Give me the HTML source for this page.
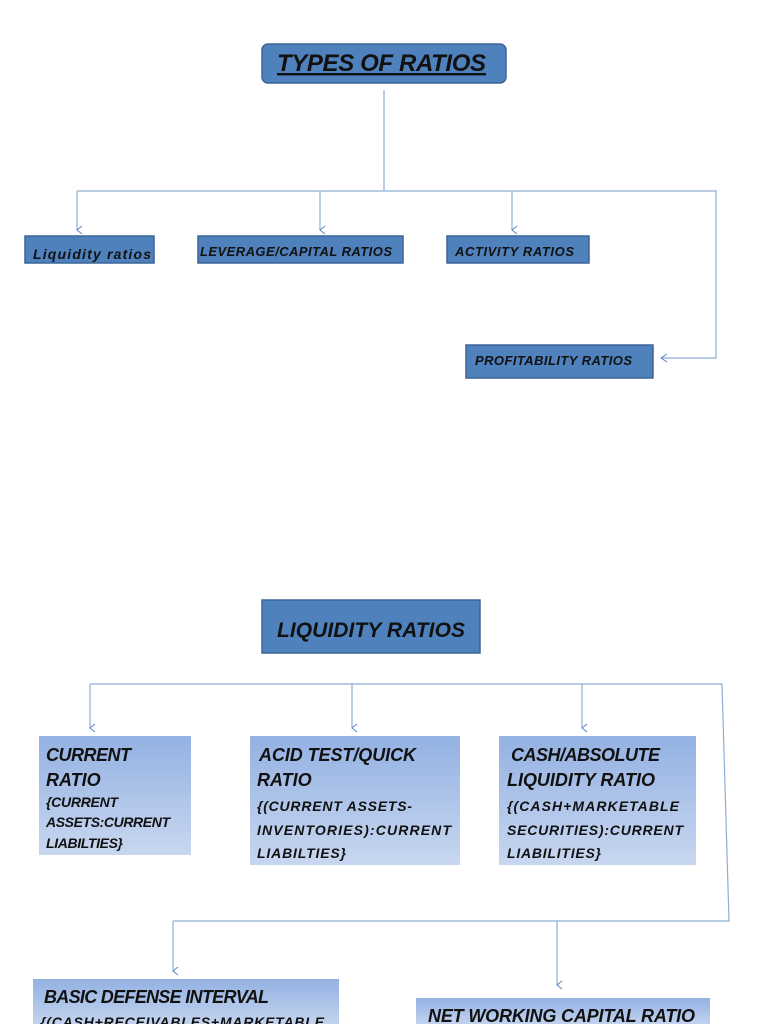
<!DOCTYPE html>
<html><head><meta charset="utf-8"><style>
html,body{margin:0;padding:0;background:#fff;width:768px;height:1024px;overflow:hidden}
svg{display:block}
text{font-family:"Liberation Sans",sans-serif;font-weight:bold;font-style:italic;fill:#111}
</style></head><body>
<svg width="768" height="1024" viewBox="0 0 768 1024" xmlns="http://www.w3.org/2000/svg">
<defs>
<linearGradient id="g" x1="0" y1="0" x2="0" y2="1">
<stop offset="0" stop-color="#93b1e2"/><stop offset="1" stop-color="#c8d7f0"/>
</linearGradient>
<marker id="a" markerWidth="10" markerHeight="10" refX="5" refY="8" orient="auto-start-reverse" markerUnits="userSpaceOnUse">
<path d="M1,3 L5,8 L9,3" fill="none" stroke="#5b86c4" stroke-width="1"/>
</marker>
<marker id="al" markerWidth="10" markerHeight="10" refX="1" refY="5" orient="0" markerUnits="userSpaceOnUse">
<path d="M7,1 L1,5 L7,9" fill="none" stroke="#5b86c4" stroke-width="1"/>
</marker>
</defs>
<g stroke="#8fadd8" stroke-width="1.2" fill="none">
<path d="M384,90 V191"/>
<path d="M77,191 H716 V358 H661" marker-end="url(#al)"/>
<path d="M77,191 V230" marker-end="url(#a)"/>
<path d="M320,191 V230" marker-end="url(#a)"/>
<path d="M512,191 V230" marker-end="url(#a)"/>
<path d="M90,684 H722 L729,921 H173"/>
<path d="M90,684 V728" marker-end="url(#a)"/>
<path d="M352,684 V728" marker-end="url(#a)"/>
<path d="M582,684 V728" marker-end="url(#a)"/>
<path d="M173,921 V971" marker-end="url(#a)"/>
<path d="M557,921 V985" marker-end="url(#a)"/>
</g>
<g fill="#4f81bd" stroke="#3a6596" stroke-width="1.5">
<rect x="262" y="44" width="244" height="39" rx="6"/>
<rect x="25" y="236" width="129" height="27"/>
<rect x="198" y="236" width="205" height="27"/>
<rect x="447" y="236" width="142" height="27"/>
<rect x="466" y="345" width="187" height="33"/>
<rect x="262" y="600" width="218" height="53"/>
</g>
<g fill="url(#g)">
<rect x="39" y="736" width="152" height="119"/>
<rect x="250" y="736" width="210" height="129"/>
<rect x="499" y="736" width="197" height="129"/>
<rect x="33" y="979" width="306" height="50"/>
<rect x="416" y="998" width="294" height="30"/>
</g>
<text x="277" y="71" font-size="24" textLength="209" text-decoration="underline">TYPES OF RATIOS</text>
<line x1="277" y1="74" x2="486" y2="74" stroke="#111" stroke-width="1.5"/>
<text x="33" y="259" font-size="14" textLength="118">Liquidity ratios</text>
<text x="200" y="256" font-size="13" textLength="192">LEVERAGE/CAPITAL RATIOS</text>
<text x="455" y="256" font-size="13" textLength="119">ACTIVITY RATIOS</text>
<text x="475" y="365" font-size="13" textLength="157">PROFITABILITY RATIOS</text>
<text x="277" y="637" font-size="21" textLength="188">LIQUIDITY RATIOS</text>
<g font-size="18">
<text x="46" y="761" textLength="85">CURRENT</text>
<text x="46" y="786">RATIO</text>
<text x="259" y="761" textLength="157">ACID TEST/QUICK</text>
<text x="257" y="786">RATIO</text>
<text x="511" y="761" textLength="149">CASH/ABSOLUTE</text>
<text x="507" y="786" textLength="148">LIQUIDITY RATIO</text>
<text x="44" y="1003" textLength="225">BASIC DEFENSE INTERVAL</text>
<text x="428" y="1022" textLength="267">NET WORKING CAPITAL RATIO</text>
</g>
<g font-size="14">
<text x="46" y="807" textLength="72">{CURRENT</text>
<text x="46" y="827" textLength="124">ASSETS:CURRENT</text>
<text x="46" y="848" textLength="77">LIABILTIES}</text>
<text x="257" y="811" textLength="155">{(CURRENT ASSETS-</text>
<text x="257" y="835" textLength="194">INVENTORIES):CURRENT</text>
<text x="257" y="858" textLength="89">LIABILTIES}</text>
<text x="507" y="811" textLength="172">{(CASH+MARKETABLE</text>
<text x="507" y="835" textLength="176">SECURITIES):CURRENT</text>
<text x="507" y="858" textLength="94">LIABILITIES}</text>
<text x="40" y="1027" textLength="284">{(CASH+RECEIVABLES+MARKETABLE</text>
</g>
</svg>
</body></html>
